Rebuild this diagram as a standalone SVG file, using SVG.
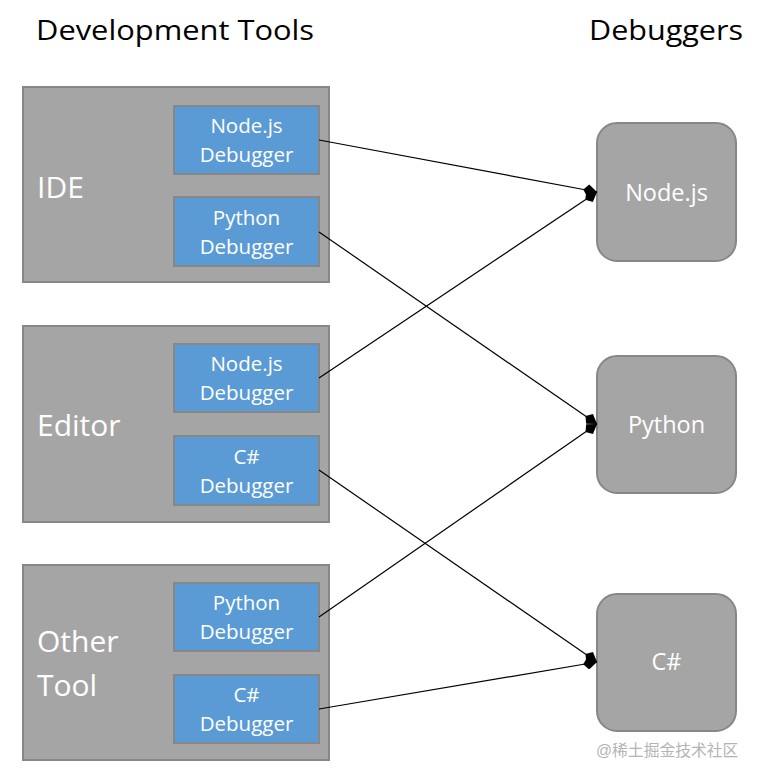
<svg xmlns="http://www.w3.org/2000/svg" width="760" height="782" viewBox="0 0 760 782">
<style>
.outer{fill:#a5a5a5;stroke:#878787;stroke-width:2}
.inner{fill:#5b9bd5;stroke:#878787;stroke-width:2}
.dbg{fill:#a5a5a5;stroke:#878787;stroke-width:2}
.t{font-family:"Open Sans","Liberation Sans",sans-serif;fill:#fff}
.h{font-family:"Open Sans","Liberation Sans",sans-serif;fill:#000;font-size:27px}
.big{font-size:30px}
.sm{font-size:20.5px;text-anchor:middle}
.md{font-size:23.5px;text-anchor:middle}
.c{fill:none;stroke:#000;stroke-width:1.2;marker-end:url(#ah)}
</style>
<defs>
<marker id="ah" viewBox="0 0 14 12" refX="14" refY="6" markerWidth="14" markerHeight="12" markerUnits="userSpaceOnUse" orient="auto">
<path d="M0,6 L5,0 L14,6 L5,12 Z" fill="#000"/>
</marker>
</defs>
<rect width="760" height="782" fill="#fff"/>
<text class="h" x="36" y="40" textLength="278" lengthAdjust="spacingAndGlyphs">Development Tools</text>
<text class="h" x="589" y="40" textLength="154" lengthAdjust="spacingAndGlyphs">Debuggers</text>
<g id="ide">
<rect class="outer" x="23" y="87" width="306" height="195"/>
<text class="t big" x="37" y="198">IDE</text>
</g>
<g id="ide-node">
<rect class="inner" x="174" y="106" width="145" height="68"/>
<text class="t sm" x="246.5" y="133">Node.js</text>
<text class="t sm" x="246.5" y="162">Debugger</text>
</g>
<g id="ide-python">
<rect class="inner" x="174" y="197" width="145" height="69"/>
<text class="t sm" x="246.5" y="225">Python</text>
<text class="t sm" x="246.5" y="254">Debugger</text>
</g>
<g id="editor">
<rect class="outer" x="23" y="326" width="306" height="196"/>
<text class="t big" x="37" y="436">Editor</text>
</g>
<g id="editor-node">
<rect class="inner" x="174" y="344" width="145" height="68"/>
<text class="t sm" x="246.5" y="371">Node.js</text>
<text class="t sm" x="246.5" y="400">Debugger</text>
</g>
<g id="editor-csharp">
<rect class="inner" x="174" y="436" width="145" height="69"/>
<text class="t sm" x="246.5" y="464">C#</text>
<text class="t sm" x="246.5" y="493">Debugger</text>
</g>
<g id="other">
<rect class="outer" x="23" y="565" width="306" height="195"/>
<text class="t big" x="37" y="652">Other</text>
<text class="t big" x="37" y="696">Tool</text>
</g>
<g id="other-python">
<rect class="inner" x="174" y="583" width="145" height="68"/>
<text class="t sm" x="246.5" y="610">Python</text>
<text class="t sm" x="246.5" y="639">Debugger</text>
</g>
<g id="other-csharp">
<rect class="inner" x="174" y="675" width="145" height="68"/>
<text class="t sm" x="246.5" y="702">C#</text>
<text class="t sm" x="246.5" y="731">Debugger</text>
</g>
<g id="dbg-node">
<rect class="dbg" x="597" y="123" width="139" height="138" rx="20"/>
<text class="t md" x="666.5" y="201">Node.js</text>
</g>
<g id="dbg-python">
<rect class="dbg" x="597" y="356" width="139" height="137" rx="20"/>
<text class="t md" x="666.5" y="433">Python</text>
</g>
<g id="dbg-csharp">
<rect class="dbg" x="597" y="594" width="139" height="137" rx="20"/>
<text class="t md" x="666.5" y="670">C#</text>
</g>
<g id="connectors">
<line class="c" x1="319" y1="140" x2="597" y2="192"/>
<line class="c" x1="319" y1="232" x2="597" y2="424"/>
<line class="c" x1="319" y1="378" x2="597" y2="192"/>
<line class="c" x1="319" y1="470" x2="597" y2="662"/>
<line class="c" x1="319" y1="617" x2="597" y2="424"/>
<line class="c" x1="319" y1="709" x2="597" y2="662"/>
</g>
<text x="596" y="756" font-family="'Liberation Sans','Noto Sans CJK SC',sans-serif" font-size="15.8" fill="#b4b4b4">@稀土掘金技术社区</text>
</svg>
